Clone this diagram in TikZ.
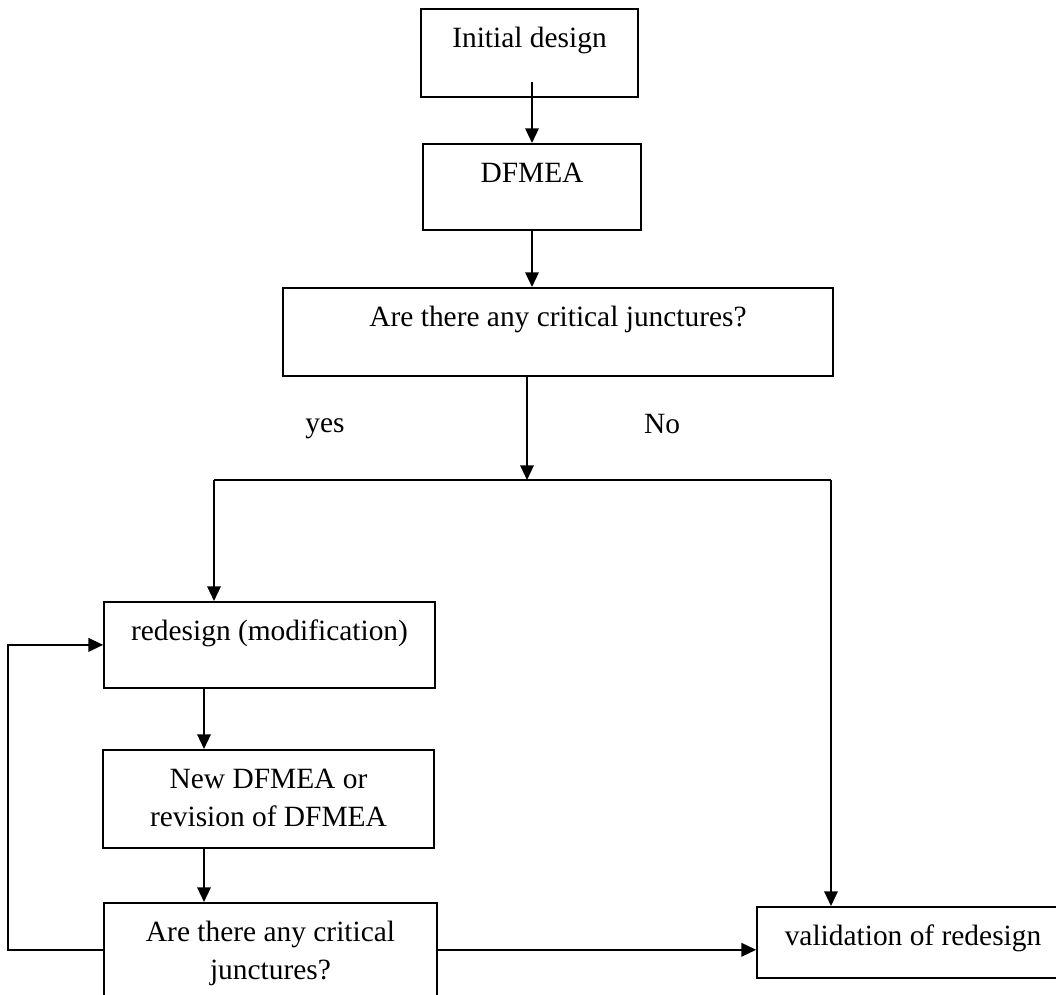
\documentclass[tikz,border=0pt]{standalone}
\usepackage{fontspec}
\setmainfont{Liberation Serif}
\usetikzlibrary{arrows.meta}
\begin{document}
\begin{tikzpicture}[x=0.408pt,y=-0.408pt,
		box/.style={draw,line width=0.7pt,anchor=north,align=center,inner ysep=0pt,text height=15.9pt,font=\fontsize{12}{15.4}\selectfont},
		twoline/.style={text height=31.3pt},
		lbl/.style={anchor=base,font=\fontsize{12}{15.4}\selectfont},
		arr/.style={line width=0.8pt,-{Triangle[length=6pt,width=5.5pt]}}]
	\clip (0,0) rectangle (1056,994);
	\node[box,minimum width=88.5pt,text depth=20pt] (init) at (529.5,8) {Initial design};
	\node[box,minimum width=88.9pt,text depth=19.2pt] (dfmea) at (532,143) {DFMEA};
	\node[box,minimum width=224.4pt,text depth=20pt] (crit) at (558,287) {Are there any critical junctures?};
	\node[box,minimum width=135pt,text depth=19.2pt] (redesign) at (269.5,601) {redesign (modification)};
	\node[box,twoline,minimum width=135pt,text depth=8.7pt] (newdf) at (268.5,749) {New DFMEA or\\revision of DFMEA};
	\node[box,twoline,minimum width=135.9pt,text depth=7pt] (crit2) at (270.5,902) {Are there any critical\\junctures?};
	\node[box,minimum width=127.3pt,text depth=13.1pt] (valid) at (913,906) {validation of redesign};
	\node[lbl] (yes) at (325,432) {yes};
	\node[lbl] (no) at (662,433) {No};
	\coordinate (split) at (527,480);
	\coordinate (yesend) at (214,480);
	\coordinate (noend) at (831,480);
	\coordinate (col) at (204,700);
	\coordinate (back) at (8,800);
	\draw[arr] (dfmea.north |- init.south) ++(0,-16) -- (dfmea.north);
	\draw[arr] (dfmea.south) -- (dfmea.south |- crit.north);
	\draw[arr] (split |- crit.south) -- (split);
	\draw[line width=0.8pt] (yesend) -- (noend);
	\draw[arr] (yesend) -- (yesend |- redesign.north);
	\draw[arr] (noend) -- (noend |- valid.north);
	\draw[arr] (col |- redesign.south) -- (col |- newdf.north);
	\draw[arr] (col |- newdf.south) -- (col |- crit2.north);
	\draw[arr] (crit2.west) -- (back |- crit2.west) |- (redesign.west);
	\draw[arr] (crit2.east) -- (crit2.east -| valid.west);
\end{tikzpicture}
\end{document}
